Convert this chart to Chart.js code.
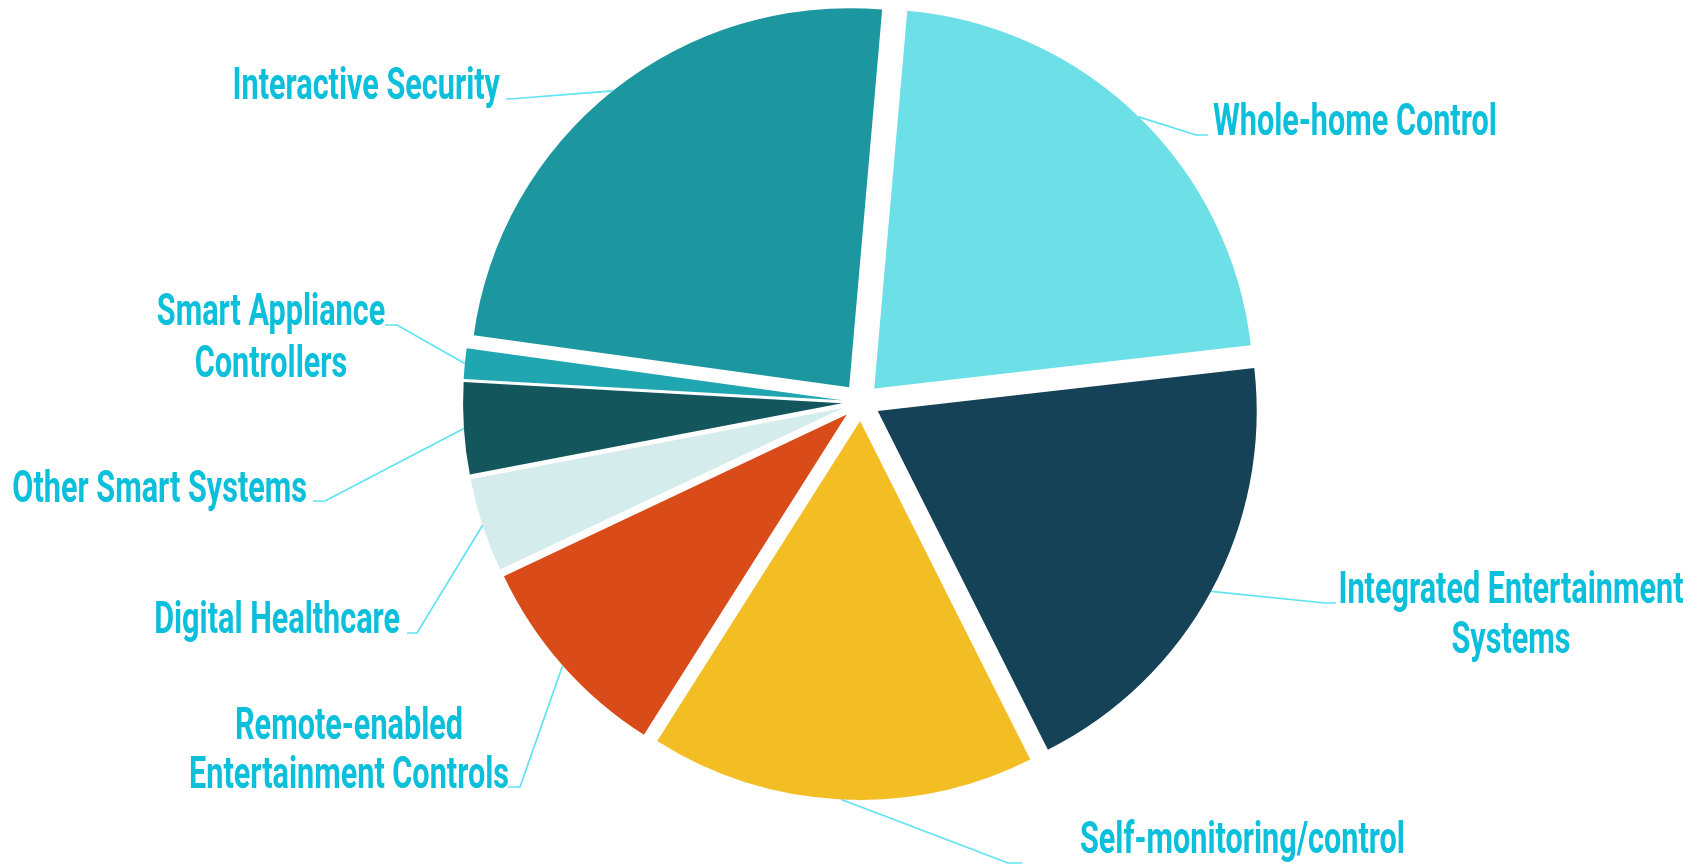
<!DOCTYPE html>
<html>
<head>
<meta charset="utf-8">
<script src="https://cdn.jsdelivr.net/npm/chart.js@4"></script>
<style>
  html, body { margin: 0; padding: 0; background: #ffffff; }
  #wrap { width: 1708px; height: 865px; position: relative; }
</style>
</head>
<body>
<div id="wrap"><canvas id="c" width="1708" height="865"></canvas></div>
<script>
// ---- data ----
const categories = [
  "Whole-home Control",
  "Integrated Entertainment Systems",
  "Self-monitoring/control",
  "Remote-enabled Entertainment Controls",
  "Digital Healthcare",
  "Other Smart Systems",
  "Smart Appliance Controllers",
  "Interactive Security"
];
const shares = [21.8, 19.4, 16.4, 9.0, 4.0, 3.9, 1.3, 24.2];
const labelLines = [
  ["Whole-home Control"],
  ["Integrated Entertainment", "Systems"],
  ["Self-monitoring/control"],
  ["Remote-enabled", "Entertainment Controls"],
  ["Digital Healthcare"],
  ["Other Smart Systems"],
  ["Smart Appliance", "Controllers"],
  ["Interactive Security"]
];

// ---- styles / layout ----
const sliceColors = ["#6ddfe7", "#154257", "#f2be24", "#d94c19", "#d5ecec", "#13575d", "#20a6b1", "#1d979f"];
const EXPLODE = 19;
const TEXT_COLOR = "#0cbfdb";
const LINE_COLOR = "#5ee3f2";
const FONT_PX = 45;
const SCALE_X = 0.68;
// elbow, anchor (end of leader), text x, align, baselines
const labelLayout = [
  { elbow: [1196, 135], anchor: [1208, 135], tx: 1213, align: "left",   base: [135] },
  { elbow: [1325, 603], anchor: [1336, 603], tx: 1511, align: "center", base: [603, 653] },
  { elbow: [1008, 863], anchor: [1022, 863], tx: 1080, align: "left",   base: [853] },
  { elbow: [520, 787],  anchor: [508, 787],  tx: 349,  align: "center", base: [739, 788] },
  { elbow: [417, 633],  anchor: [407, 633],  tx: 400,  align: "right",  base: [633] },
  { elbow: [325, 501],  anchor: [313, 501],  tx: 307,  align: "right",  base: [502] },
  { elbow: [397, 325],  anchor: [385, 325],  tx: 271,  align: "center", base: [325, 377] },
  { elbow: [516, 98.5], anchor: [506, 99],   tx: 500,  align: "right",  base: [99] }
];

const explodePlugin = {
  id: 'explode',
  beforeDatasetsDraw(chart) {
    const meta = chart.getDatasetMeta(0);
    const ca = chart.chartArea;
    const cx = (ca.left + ca.right) / 2, cy = (ca.top + ca.bottom) / 2;
    meta.data.forEach(arc => {
      const mid = (arc.startAngle + arc.endAngle) / 2;
      arc.x = cx + Math.cos(mid) * EXPLODE;
      arc.y = cy + Math.sin(mid) * EXPLODE;
    });
  }
};

const labelPlugin = {
  id: 'leaderLabels',
  afterDatasetsDraw(chart) {
    const ctx = chart.ctx;
    const meta = chart.getDatasetMeta(0);
    meta.data.forEach((arc, i) => {
      const L = labelLayout[i];
      const mid = (arc.startAngle + arc.endAngle) / 2;
      const ex = arc.x + Math.cos(mid) * arc.outerRadius;
      const ey = arc.y + Math.sin(mid) * arc.outerRadius;
      ctx.save();
      ctx.strokeStyle = LINE_COLOR;
      ctx.lineWidth = 1.7;
      ctx.beginPath();
      ctx.moveTo(ex, ey);
      ctx.lineTo(L.elbow[0], L.elbow[1]);
      ctx.lineTo(L.anchor[0], L.anchor[1]);
      ctx.stroke();
      ctx.fillStyle = TEXT_COLOR;
      ctx.font = "700 " + FONT_PX + "px Roboto, 'Liberation Sans', sans-serif";
      ctx.textAlign = L.align;
      ctx.textBaseline = "alphabetic";
      labelLines[i].forEach((t, k) => {
        ctx.save();
        ctx.translate(L.tx, L.base[k]);
        ctx.scale(SCALE_X, 1);
        ctx.fillText(t, 0, 0);
        ctx.restore();
      });
      ctx.restore();
    });
  }
};

new Chart(document.getElementById('c'), {
  type: 'pie',
  data: {
    labels: categories,
    datasets: [{
      data: shares,
      backgroundColor: sliceColors,
      borderWidth: 0,
      hoverOffset: 0
    }]
  },
  options: {
    responsive: false,
    devicePixelRatio: 1,
    animation: false,
    rotation: 5,
    layout: { padding: { top: 23, bottom: 84, left: 14, right: 0 } },
    plugins: { legend: { display: false }, tooltip: { enabled: false } },
    events: []
  },
  plugins: [explodePlugin, labelPlugin]
});
</script>
</body>
</html>
